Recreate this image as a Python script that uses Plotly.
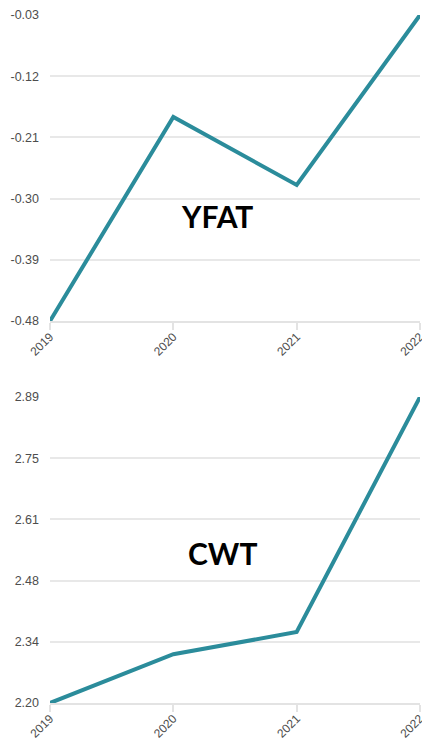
import plotly.graph_objects as go
from plotly.subplots import make_subplots

years = ["2019", "2020", "2021", "2022"]
yfat = [-0.48, -0.18, -0.28, -0.03]
cwt = [2.20, 2.31, 2.36, 2.89]
titles = ["YFAT", "CWT"]

line_color = "#2b8c9b"

fig = make_subplots(rows=2, cols=1, vertical_spacing=0.11)

for i, (vals, name) in enumerate([(yfat, titles[0]), (cwt, titles[1])], start=1):
    fig.add_trace(go.Scatter(x=list(range(len(years))), y=vals, mode="lines",
                             line=dict(color=line_color, width=4), showlegend=False,
                             cliponaxis=False),
                  row=i, col=1)
    lo, hi = min(vals), max(vals)
    step = (hi - lo) / 5
    tv = [lo + k * step for k in range(6)]
    fig.update_yaxes(range=[lo, hi], tickvals=tv, ticktext=[f"{v:.2f}" for v in tv],
                     showgrid=True, gridcolor="#e8e8e8", gridwidth=1.5,
                     zeroline=False, showline=False, ticks="",
                     ticklabelstandoff=10, automargin=False,
                     tickfont=dict(family="Arial, Liberation Sans", size=12.5, color="#4d4d4d"),
                     row=i, col=1)
    fig.update_xaxes(range=[0, len(years) - 1], tickvals=list(range(len(years))),
                     ticktext=years, tickangle=-45, showgrid=False, zeroline=False,
                     showline=True, linecolor="#e3e3e3", linewidth=2,
                     ticks="outside", ticklen=7, tickcolor="#e3e3e3", tickwidth=1.5,
                     ticklabelstandoff=-5,
                     automargin=False, ticklabeloverflow="allow",
                     tickfont=dict(family="Arial, Liberation Sans", size=12, color="#4d4d4d"),
                     row=i, col=1)

fig.update_layout(
    width=422, height=739,
    margin=dict(l=50, r=2, t=15, b=36),
    plot_bgcolor="white", paper_bgcolor="white",
    yaxis=dict(domain=[0.5552, 1.0]),
    yaxis2=dict(domain=[0.0, 0.4448]),
    annotations=[
        dict(text="<b>YFAT</b>", xref="paper", yref="paper", x=0.452, y=(703 - 216) / 688,
             xanchor="center", yanchor="middle",
             showarrow=False, font=dict(family="Lato", size=30, color="black")),
        dict(text="<b>CWT</b>", xref="paper", yref="paper", x=0.466, y=(703 - 553) / 688,
             xanchor="center", yanchor="middle",
             showarrow=False, font=dict(family="Lato", size=30, color="black")),
    ],
)

fig.write_html("out.html", config={"displayModeBar": False},
               post_script="document.documentElement.style.overflow='hidden';"
                           "document.body.style.margin='0';document.body.style.overflow='hidden';")
